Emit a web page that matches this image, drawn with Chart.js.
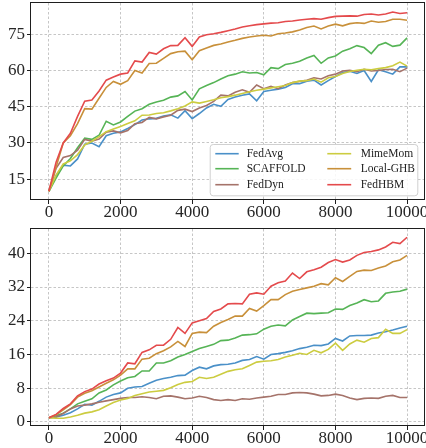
<!DOCTYPE html>
<html>
<head>
<meta charset="utf-8">
<script src="https://cdn.jsdelivr.net/npm/chart.js@4.4.1/dist/chart.umd.min.js"></script>
<style>
  body { margin: 0; background: #fff; }
  canvas { position: absolute; left: 0; }
  #top { top: 0; }
  #bottom { top: 224px; }
</style>
</head>
<body>
<canvas id="top" width="426" height="224"></canvas>
<canvas id="bottom" width="426" height="224"></canvas>
<script>
// communication rounds (x axis)
let rounds = [0, 200, 400, 600, 800, 1000, 1200, 1400, 1600, 1800,
  2000, 2200, 2400, 2600, 2800, 3000, 3200, 3400, 3600, 3800,
  4000, 4200, 4400, 4600, 4800, 5000, 5200, 5400, 5600, 5800,
  6000, 6200, 6400, 6600, 6800, 7000, 7200, 7400, 7600, 7800,
  8000, 8200, 8400, 8600, 8800, 9000, 9200, 9400, 9600, 9800, 10000];

let methods = ['FedAvg', 'SCAFFOLD', 'FedDyn', 'MimeMom', 'Local-GHB', 'FedHBM'];
let colors = ['#4a90c8', '#56b456', '#a5736a', '#cccc40', '#c8903a', '#e44a4c'];

// top panel
let topFedAvg = [10, 16.5, 20.8, 20.5, 23.4, 29.5, 30, 28.5, 33, 34,
  34.6, 36, 37.6, 39.5, 40, 40.2, 41.2, 41.7, 40.3, 43.4,
  40.1, 42.2, 44.5, 46, 45.2, 48, 49, 49.8, 50.3, 47.5,
  51.3, 51.8, 52.3, 53, 54.5, 54.5, 55.6, 56, 54, 55.8,
  57.5, 59.2, 59.7, 58.8, 60, 55.5, 60.3, 59.5, 58.5, 61.5, 61.5];
let topScaffold = [10, 15.5, 20.5, 23.6, 28, 32, 31.5, 33.2, 39, 37.5,
  38.7, 41, 43.2, 44.2, 46, 47, 47.7, 49, 49.5, 51.3,
  47.8, 52.4, 53.8, 55, 56.5, 57.8, 58.5, 59.5, 59, 59.2,
  58.2, 61.2, 60.8, 62.5, 63, 63.8, 65.2, 66.2, 63, 65.2,
  66, 68, 69, 70.3, 69.5, 67, 70.5, 71.5, 70, 70.5, 73.5];
let topFedDyn = [10, 19.5, 24, 24.8, 27, 31.5, 30.8, 31.6, 34.5, 35,
  34.2, 35.2, 38, 38.5, 40.6, 40, 40.8, 41.5, 43.5, 44,
  43, 44.5, 45.5, 47.2, 49.8, 49.5, 51, 52, 51, 54,
  52.5, 53.5, 52.5, 54, 55, 55.5, 56, 57, 56.5, 57.8,
  58.5, 59.8, 60.1, 59.5, 60.5, 59.8, 60, 60.4, 60.5, 59.5, 61];
let topMimeMom = [10, 16.7, 21.3, 22.6, 25.2, 29.2, 30.7, 32.6, 34.7, 35.8,
  36.8, 38.1, 39.2, 41.5, 41.6, 42.2, 42.5, 43.3, 44.2, 45.3,
  47, 46.5, 47.2, 47.9, 48.7, 49.2, 49.8, 50.5, 51.2, 51.8,
  52.3, 52.8, 53.3, 53.8, 55, 55.6, 55.8, 56.5, 55.2, 57,
  57.5, 58.8, 59.6, 60.1, 60.5, 60.3, 60.8, 61.2, 62, 63.5, 61.8];
let topLocalGHB = [10, 20, 30, 33, 38, 44.2, 44, 48.5, 53, 55.5,
  54.3, 55.8, 60, 59, 62.9, 63, 65, 67, 67.8, 68,
  64.5, 68.2, 69.3, 70.4, 71, 71.8, 72.5, 73.3, 73.9, 74.3,
  74.6, 74.3, 75.2, 75.5, 76, 76.8, 77.8, 78.4, 77.2, 78.4,
  79.2, 78.5, 79.4, 79.8, 79.5, 80.5, 80, 80.3, 81.2, 81.2, 80.8];
let topFedHBM = [10, 22, 30, 34, 41, 47.3, 47.8, 51.5, 56, 57.3,
  58.5, 59, 64, 63.5, 67.5, 66.8, 69, 70.3, 70.4, 73.6,
  70, 73.9, 74.8, 75.2, 75.8, 76.5, 77.2, 78, 78.5, 79,
  79.3, 79.6, 79.8, 80.3, 80.5, 80.9, 81.2, 81.5, 81.2, 81.9,
  82.4, 82.5, 82.6, 82.5, 83.2, 83.4, 83, 83.4, 84.2, 83.6, 83.9];

// bottom panel
let botFedAvg = [1, 1.2, 1.6, 2.2, 3.1, 4.2, 4, 4.9, 5.9, 6.5,
  6.9, 8, 8.3, 8.4, 9.2, 9.9, 10.3, 10.6, 11, 11.1,
  12.2, 13, 12.6, 13.3, 13.6, 13.7, 14, 14.6, 14.8, 15.5,
  14.9, 16, 16.2, 16.5, 16.9, 17.4, 17.7, 18.2, 18.1, 18.5,
  19.8, 19.2, 20.4, 20.5, 20.5, 20.6, 21.1, 21.4, 21.8, 22.3, 22.7];
let botScaffold = [1, 1.5, 2.1, 3.1, 4.3, 4.9, 5.5, 6.9, 7.6, 8.8,
  9.7, 10.5, 10.8, 12.1, 12.1, 14, 14, 14.5, 15.4, 16,
  16.7, 17.4, 17.9, 18.4, 19.3, 19.4, 19.9, 20.6, 20.7, 20.9,
  22, 22.7, 23, 22.8, 24.2, 25, 25.8, 25.7, 25.8, 25.9,
  26.8, 26.7, 27.6, 28.2, 29, 28.5, 28.7, 30.5, 30.8, 31, 31.5];
let botFedDyn = [1, 1.2, 2, 3.1, 3.8, 4, 4.3, 4.7, 5, 5.3,
  5.6, 5.8, 5.8, 6, 5.8, 5.5, 6.1, 6.2, 5.9, 5.5,
  5.7, 6.1, 5.8, 5.3, 5.1, 5.3, 5.1, 5.5, 5.4, 5.7,
  5.9, 6.1, 6.5, 6.5, 6.9, 7, 6.9, 6.6, 6.2, 6.3,
  6.6, 6.3, 5.7, 5.3, 5.6, 5.7, 5.6, 6.1, 6.3, 5.8, 5.8];
let botMimeMom = [1, 0.9, 0.9, 1.2, 1.6, 2.1, 2.4, 2.9, 3.8, 4.6,
  5.2, 5.6, 6.3, 6.7, 7.1, 7.3, 7.5, 8.1, 8.9, 9.4,
  9.6, 10.6, 10.3, 10.6, 11.3, 12, 12.4, 12.6, 13.4, 14.2,
  14.4, 14.5, 14.8, 15.4, 15.8, 16.3, 16, 17, 16.4, 17.2,
  18.7, 17, 18.5, 19.4, 18.9, 19.8, 20, 22, 21, 21, 21.9];
let botLocalGHB = [1, 1.7, 2.9, 4.1, 5.9, 6.8, 7.4, 8.3, 9.2, 10,
  11.1, 12.6, 12.6, 14.9, 15.1, 16.2, 16.9, 17.8, 19.1, 17.9,
  21, 21.3, 21.2, 22.7, 23.6, 24.3, 25.1, 25.1, 26.9, 26.3,
  27.6, 29, 29, 30.2, 31, 31.4, 31.8, 32.2, 32.8, 32.5,
  34.2, 33.3, 34.5, 35.7, 36, 35.9, 36.5, 37, 38, 38.4, 39.5];
let botFedHBM = [1, 1.8, 3.2, 4.3, 6.2, 7.2, 7.8, 9, 9.8, 10.4,
  11.6, 14, 13.8, 16.5, 17.1, 18.2, 18.2, 19.6, 22.4, 21,
  23.5, 24, 24.5, 26.2, 26.8, 28, 28.1, 28, 30.3, 30.6,
  30.3, 32.2, 33, 33.4, 35.3, 34, 35.6, 36.1, 36.7, 37.8,
  38.5, 37.9, 38.4, 39.5, 40.2, 40.4, 40.8, 41.5, 42.6, 42.3, 43.8];

let xTicks = [0, 2000, 4000, 6000, 8000, 10000];
let topYTicks = [15, 30, 45, 60, 75];
let botYTicks = [0, 8, 16, 24, 32, 40];

const serif = "'Liberation Serif', 'Times New Roman', serif";

function makeDatasets(series) {
  return series.map((ys, i) => ({
    label: methods[i],
    data: rounds.map((r, j) => ({x: r, y: ys[j]})),
    borderColor: colors[i],
    backgroundColor: colors[i],
    borderWidth: 1.6,
    pointRadius: 0,
    tension: 0,
    fill: false,
    order: methods.length - i
  }));
}

// full box around the plotting area (matplotlib spines)
const frame = {
  id: 'frame',
  afterDatasetsDraw(chart) {
    const {ctx, chartArea: a} = chart;
    const x0 = Math.round(a.left) - 0.5, x1 = Math.round(a.right) - 0.5;
    const y0 = Math.round(a.top) - 0.5, y1 = Math.round(a.bottom) - 0.5;
    ctx.save();
    ctx.strokeStyle = '#1e1e1e';
    ctx.lineWidth = 1;
    ctx.strokeRect(x0, y0, x1 - x0, y1 - y0);
    ctx.restore();
  }
};

// two-column legend in the lower right corner, like matplotlib's ncol=2
const boxLegend = {
  id: 'boxLegend',
  afterDraw(chart, args, opts) {
    if (!opts.show) return;
    const {ctx, chartArea: a} = chart;
    const w = 207.6, h = 51.3;
    const bx = a.right - 7.7 - w, by = a.bottom - 4.7 - h;
    ctx.save();
    ctx.beginPath();
    ctx.roundRect(bx + 0.5, by + 0.5, w, h, 3);
    ctx.fillStyle = 'rgba(255,255,255,0.85)';
    ctx.fill();
    ctx.strokeStyle = '#d0d0d0';
    ctx.lineWidth = 1;
    ctx.stroke();
    const cols = [{h0: 5.6, h1: 29, t: 37}, {h0: 117.6, h1: 141.5, t: 151}];
    const rows = [9.7, 24.7, 40.7];
    ctx.font = '11.5px ' + serif;
    ctx.textBaseline = 'middle';
    ctx.textAlign = 'left';
    chart.data.datasets.forEach((ds, i) => {
      const c = cols[Math.floor(i / 3)], ry = by + rows[i % 3];
      ctx.strokeStyle = ds.borderColor;
      ctx.lineWidth = 1.6;
      ctx.beginPath();
      ctx.moveTo(bx + c.h0, ry);
      ctx.lineTo(bx + c.h1, ry);
      ctx.stroke();
      ctx.fillStyle = '#222';
      ctx.fillText(ds.label, bx + c.t, ry + 0.5);
    });
    ctx.restore();
  }
};

function makeOptions(yMin, yMax, yTicks, padTop, xHeight, legend) {
  const grid = {
    color: '#b8b8b8', lineWidth: 0.8, drawTicks: true, tickLength: 4,
    tickColor: '#1e1e1e', tickWidth: 1, tickBorderDash: []
  };
  const border = {display: false, dash: [2.5, 2]};
  return {
    responsive: false,
    animation: false,
    devicePixelRatio: 1,
    layout: {padding: {top: padTop, right: 1, left: 0, bottom: 0}},
    plugins: {legend: {display: false}, tooltip: {enabled: false}, boxLegend: {show: legend}},
    scales: {
      x: {
        type: 'linear', min: -500, max: 10500, bounds: 'data',
        grid: grid, border: border,
        ticks: {
          font: {family: serif, size: 17, lineHeight: 1}, color: '#262626', padding: 0, maxRotation: 0,
          callback: v => String(v)
        },
        afterBuildTicks: s => { s.ticks = xTicks.map(v => ({value: v})); },
        afterFit: s => { s.height = xHeight; s.paddingLeft = 0; s.paddingRight = 0; }
      },
      y: {
        type: 'linear', min: yMin, max: yMax, bounds: 'data',
        grid: grid, border: border,
        ticks: {
          font: {family: serif, size: 17, lineHeight: 1}, color: '#262626', padding: 2,
          callback: v => String(v)
        },
        afterBuildTicks: s => { s.ticks = yTicks.map(v => ({value: v})); },
        afterFit: s => { s.width = 31; s.paddingTop = 0; s.paddingBottom = 0; }
      }
    }
  };
}

new Chart(document.getElementById('top'), {
  type: 'line',
  data: {datasets: makeDatasets([topFedAvg, topScaffold, topFedDyn, topMimeMom, topLocalGHB, topFedHBM])},
  options: makeOptions(6.4, 87.95, topYTicks, 3, 24, true),
  plugins: [frame, boxLegend]
});

new Chart(document.getElementById('bottom'), {
  type: 'line',
  data: {datasets: makeDatasets([botFedAvg, botScaffold, botFedDyn, botMimeMom, botLocalGHB, botFedHBM])},
  options: makeOptions(-0.95, 45.75, botYTicks, 5, 22, false),
  plugins: [frame, boxLegend]
});
</script>
</body>
</html>
